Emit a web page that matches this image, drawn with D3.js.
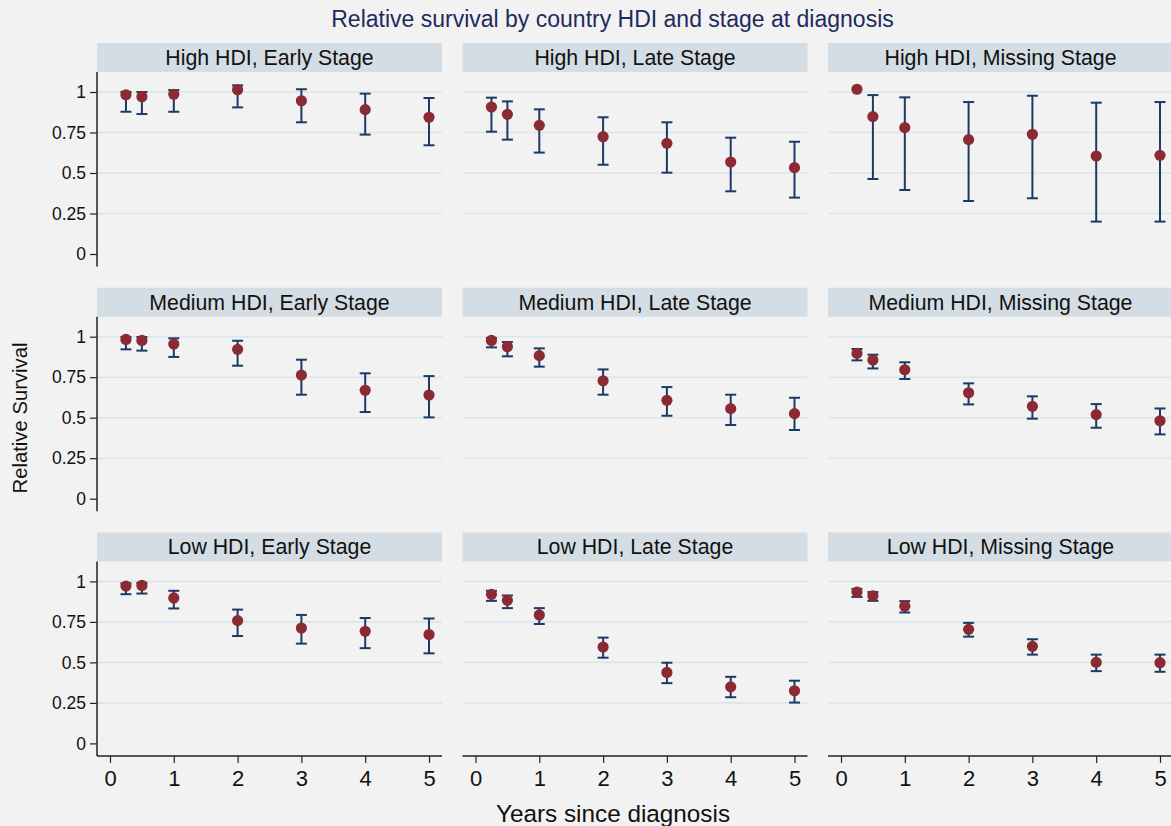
<!DOCTYPE html>
<html><head><meta charset="utf-8">
<script src="https://cdn.jsdelivr.net/npm/d3@7"></script>
<style>
html,body{margin:0;padding:0;background:#f2f2f2;}
svg{display:block;font-family:"Liberation Sans",Arial,sans-serif;}
</style></head>
<body>
<script>
// ---- data ----
const years = [0.25, 0.5, 1, 2, 3, 4, 5];
const hdiLevels = ["High HDI", "Medium HDI", "Low HDI"];
const stages = ["Early Stage", "Late Stage", "Missing Stage"];
const xTicks = [0, 1, 2, 3, 4, 5];
const yTicks = [0, 0.25, 0.5, 0.75, 1];
const yTickLabels = ["0", "0.25", "0.5", "0.75", "1"];

const rsHighEarly = [0.983, 0.971, 0.986, 1.014, 0.946, 0.891, 0.844];
const loHighEarly = [0.878, 0.864, 0.878, 0.905, 0.813, 0.737, 0.671];
const hiHighEarly = [1.000, 1.000, 1.012, 1.041, 1.017, 0.990, 0.963];

const rsHighLate = [0.907, 0.862, 0.794, 0.724, 0.683, 0.568, 0.533];
const loHighLate = [0.755, 0.706, 0.626, 0.551, 0.502, 0.387, 0.348];
const hiHighLate = [0.965, 0.942, 0.893, 0.844, 0.813, 0.718, 0.693];

const rsHighMissing = [1.017, 0.848, 0.780, 0.706, 0.739, 0.605, 0.609];
const loHighMissing = [null, 0.463, 0.395, 0.327, 0.344, 0.200, 0.200];
const hiHighMissing = [null, 0.981, 0.967, 0.938, 0.977, 0.934, 0.938];

const rsMediumEarly = [0.983, 0.977, 0.955, 0.922, 0.763, 0.669, 0.640];
const loMediumEarly = [0.922, 0.914, 0.875, 0.821, 0.642, 0.535, 0.502];
const hiMediumEarly = [0.998, 0.998, 0.990, 0.975, 0.858, 0.774, 0.757];

const rsMediumLate = [0.977, 0.938, 0.883, 0.728, 0.607, 0.556, 0.525];
const loMediumLate = [0.934, 0.879, 0.815, 0.642, 0.512, 0.455, 0.424];
const hiMediumLate = [0.992, 0.967, 0.928, 0.798, 0.689, 0.642, 0.623];

const rsMediumMissing = [0.897, 0.856, 0.796, 0.654, 0.570, 0.519, 0.481];
const loMediumMissing = [0.854, 0.804, 0.739, 0.582, 0.494, 0.438, 0.397];
const hiMediumMissing = [0.924, 0.889, 0.842, 0.712, 0.632, 0.584, 0.557];

const rsLowEarly = [0.971, 0.975, 0.898, 0.758, 0.712, 0.692, 0.672];
const loLowEarly = [0.921, 0.925, 0.833, 0.663, 0.616, 0.588, 0.556];
const hiLowEarly = [0.988, 0.991, 0.942, 0.826, 0.793, 0.774, 0.771];

const rsLowLate = [0.920, 0.883, 0.793, 0.595, 0.438, 0.349, 0.325];
const loLowLate = [0.880, 0.835, 0.737, 0.529, 0.372, 0.285, 0.252];
const hiLowLate = [0.942, 0.913, 0.835, 0.653, 0.498, 0.411, 0.387];

const rsLowMissing = [0.934, 0.911, 0.847, 0.704, 0.599, 0.500, 0.498];
const loLowMissing = [0.904, 0.880, 0.808, 0.659, 0.548, 0.446, 0.442];
const hiLowMissing = [0.954, 0.934, 0.878, 0.744, 0.643, 0.548, 0.548];

const panelData = [
  [[rsHighEarly, loHighEarly, hiHighEarly], [rsHighLate, loHighLate, hiHighLate], [rsHighMissing, loHighMissing, hiHighMissing]],
  [[rsMediumEarly, loMediumEarly, hiMediumEarly], [rsMediumLate, loMediumLate, hiMediumLate], [rsMediumMissing, loMediumMissing, hiMediumMissing]],
  [[rsLowEarly, loLowEarly, hiLowEarly], [rsLowLate, loLowLate, hiLowLate], [rsLowMissing, loLowMissing, hiLowMissing]]
];

// ---- layout ----
const W = 1171, H = 826;
const colLeft = [97, 462.5, 828];
const panelW = 345;
const headerTop0 = 43, rowStep = 244.7, headerH = 29, plotH = 194.5;
const C = {bg: "#f2f2f2", header: "#d3dde3", grid: "#dbe5ea", axis: "#222", bar: "#1b3a66", dot: "#8c2a33", title: "#1d2b5c"};

const svg = d3.select("body").append("svg").attr("width", W).attr("height", H);
svg.append("rect").attr("width", W).attr("height", H).attr("fill", C.bg);

svg.append("text").attr("x", 612.5).attr("y", 26.5).attr("text-anchor", "middle")
  .attr("font-size", 23).attr("fill", C.title)
  .text("Relative survival by country HDI and stage at diagnosis");

hdiLevels.forEach((hdi, r) => {
  const hTop = headerTop0 + r * rowStep;
  const pTop = hTop + headerH;
  const y = d3.scaleLinear().domain([0, 1]).range([pTop + 182, pTop + 20]);
  stages.forEach((stage, c) => {
    const left = colLeft[c];
    const x = d3.scaleLinear().domain([0, 5]).range([left + 13, left + 332]);
    const g = svg.append("g");
    // header
    g.append("rect").attr("x", left).attr("y", hTop).attr("width", panelW).attr("height", headerH).attr("fill", C.header);
    g.append("text").attr("x", left + panelW / 2).attr("y", hTop + 22).attr("text-anchor", "middle")
      .attr("font-size", 21.3).attr("fill", "#111").text(hdi + ", " + stage);
    // gridlines
    g.selectAll(".grid").data(yTicks.filter(v => v > 0)).enter().append("line")
      .attr("x1", left + 1).attr("x2", left + panelW).attr("y1", d => y(d)).attr("y2", d => y(d))
      .attr("stroke", C.grid).attr("stroke-width", 1.6);
    // y axis
    if (c === 0) {
      const ya = d3.axisLeft(y).tickValues(yTicks).tickSize(7).tickPadding(4)
        .tickFormat((d, i) => yTickLabels[i]);
      const ga = g.append("g").attr("transform", `translate(${left},0)`).call(ya);
      ga.select(".domain").remove();
      ga.selectAll("line").attr("stroke", C.axis).attr("stroke-width", 1.2);
      ga.selectAll("text").attr("font-size", 17.5).attr("fill", "#111").attr("font-family", "Liberation Sans, Arial, sans-serif");
      g.append("line").attr("x1", left).attr("x2", left).attr("y1", pTop).attr("y2", pTop + plotH)
        .attr("stroke", C.axis).attr("stroke-width", 1.5);
    }
    // x axis
    if (r === 2) {
      const xa = d3.axisBottom(x).tickValues(xTicks).tickSize(7).tickPadding(7).tickFormat(d3.format("d"));
      const ga = g.append("g").attr("transform", `translate(0,${pTop + plotH})`).call(xa);
      ga.select(".domain").remove();
      ga.selectAll("line").attr("stroke", C.axis).attr("stroke-width", 1.2);
      ga.selectAll("text").attr("font-size", 22).attr("fill", "#111").attr("font-family", "Liberation Sans, Arial, sans-serif");
      g.append("line").attr("x1", left).attr("x2", left + panelW).attr("y1", pTop + plotH).attr("y2", pTop + plotH)
        .attr("stroke", C.axis).attr("stroke-width", 1.5);
    }
    // data
    const [rs, lo, hi] = panelData[r][c];
    const pts = years.map((t, i) => ({t, v: rs[i], lo: lo[i], hi: hi[i]}));
    const withCI = pts.filter(d => d.lo !== null && d.hi !== null);
    const cap = 5.5;
    g.selectAll(".bar").data(withCI).enter().append("line")
      .attr("x1", d => x(d.t)).attr("x2", d => x(d.t)).attr("y1", d => y(d.lo)).attr("y2", d => y(d.hi))
      .attr("stroke", C.bar).attr("stroke-width", 2);
    g.selectAll(".capl").data(withCI).enter().append("line")
      .attr("x1", d => x(d.t) - cap).attr("x2", d => x(d.t) + cap).attr("y1", d => y(d.lo)).attr("y2", d => y(d.lo))
      .attr("stroke", C.bar).attr("stroke-width", 2);
    g.selectAll(".caph").data(withCI).enter().append("line")
      .attr("x1", d => x(d.t) - cap).attr("x2", d => x(d.t) + cap).attr("y1", d => y(d.hi)).attr("y2", d => y(d.hi))
      .attr("stroke", C.bar).attr("stroke-width", 2);
    g.selectAll(".dot").data(pts).enter().append("circle")
      .attr("cx", d => x(d.t)).attr("cy", d => y(d.v)).attr("r", 5.6).attr("fill", C.dot);
  });
});

// axis titles
svg.append("text").attr("transform", "translate(27,418) rotate(-90)").attr("text-anchor", "middle")
  .attr("font-size", 20.3).attr("fill", "#111").text("Relative Survival");
svg.append("text").attr("x", 613).attr("y", 822).attr("text-anchor", "middle")
  .attr("font-size", 24.3).attr("fill", "#111").text("Years since diagnosis");
</script>
</body></html>
